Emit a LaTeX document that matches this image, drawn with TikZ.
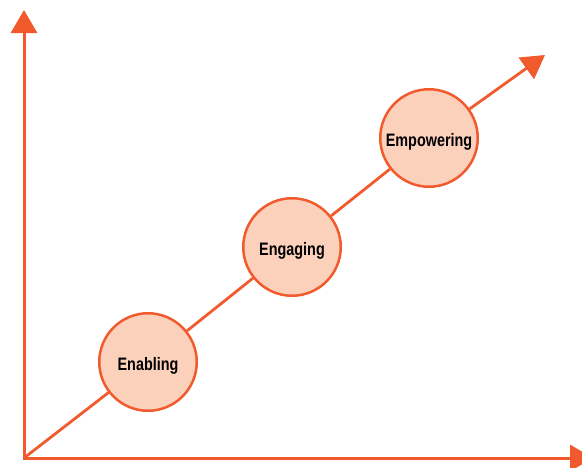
\documentclass[tikz,border=0pt]{standalone}
\usepackage{fontspec}
\newfontfamily\stagefont[FakeStretch=0.8]{Liberation Sans}
\usetikzlibrary{arrows.meta}
\definecolor{lineor}{RGB}{240,90,45}
\definecolor{fillor}{RGB}{252,209,188}
\tikzset{
  stage/.style={circle, draw=lineor, fill=fillor, line width=2.5pt,
                minimum size=97.5pt, inner sep=0pt, text depth=0pt,
                font=\stagefont\bfseries\fontsize{18}{21}\selectfont},
  axis/.style={draw=lineor, line width=3pt, {Triangle[length=23pt, width=26pt]}-{Triangle[length=23pt, width=26pt]}},
  link/.style={draw=lineor, line width=2.8pt},
  growth/.style={link, -{Triangle[length=23pt, width=26pt]}},
}
\begin{document}
\begin{tikzpicture}[x=1pt, y=-1pt]
  \useasboundingbox (0,0) rectangle (582,467);
  % axes
  \coordinate (o) at (24,458);
  \coordinate (ytip) at (24,10);
  \coordinate (xtip) at (593,458);
  \coordinate (dtip) at (545,55);
  % stages
  \node[stage] (enab) at (148,362) {\raisebox{-3pt}{Enabling}};
  \node[stage] (enga) at (292,247) {\raisebox{-3pt}{Engaging}};
  \node[stage] (empo) at (429,138) {\raisebox{-3pt}{Empowering}};
  \draw[axis] (ytip) -- (o) -- (xtip);
  \draw[link] (o) -- (enab); \draw[link] (enab) -- (enga);
  \draw[link] (enga) -- (empo); \draw[growth] (empo) -- (dtip);
\end{tikzpicture}
\end{document}
